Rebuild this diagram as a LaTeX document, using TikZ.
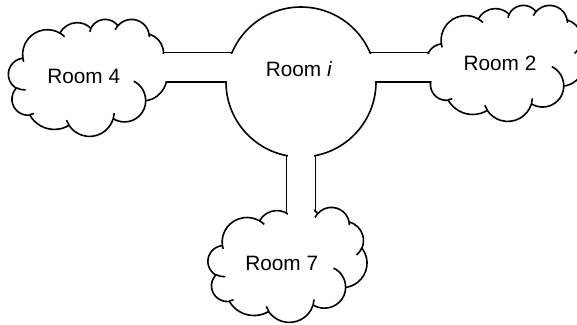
\documentclass[tikz,border=0pt]{standalone}
\usepackage{fontspec}
\setmainfont{Liberation Sans}
\usetikzlibrary{calc}
\pgfdeclarelayer{bg}
\pgfdeclarelayer{fg}
\pgfsetlayers{bg,main,fg}

\makeatletter
% elliptic arc with OOXML-style (visual) angles -> TikZ parametric angles
\newcommand\mkooarc[5]{%
  \pgfmathsetmacro\oo@a{atan2((#2)*sin(#4),(#3)*cos(#4))}%
  \pgfmathsetmacro\oo@b{atan2((#2)*sin((#4)+(#5)),(#3)*cos((#4)+(#5)))}%
  \pgfmathsetmacro\oo@d{\oo@b-\oo@a}%
  \pgfmathsetmacro\oo@k{round(((#5)-\oo@d)/360)}%
  \pgfmathsetmacro\oo@d{\oo@d+360*\oo@k}%
  \expandafter\xdef\csname ooarc#1\endcsname{arc[x radius=#2,y radius=#3,start angle=\oo@a,delta angle=\oo@d]}%
}
\makeatother

% outline
\mkooarc{A}{67.53}{91.90}{-190.48748}{123.78053}
\mkooarc{B}{53.33}{72.67}{-144.10238}{89.94523}
\mkooarc{C}{43.65}{59.45}{-145.80792}{99.72302}
\mkooarc{D}{48.57}{65.95}{-130.98607}{117.24173}
\mkooarc{E}{53.33}{72.73}{-78.70888}{109.02692}
\mkooarc{F}{67.75}{92.20}{-46.26725}{130.269}
\mkooarc{G}{57.85}{78.67}{0.62502}{114.03333}
\mkooarc{H}{67.52}{92.15}{22.4516}{115.17255}
\mkooarc{I}{77.20}{105.43}{66.24263}{75.71102}
\mkooarc{J}{43.60}{59.18}{-274.94208}{146.73557}
\mkooarc{K}{43.45}{59.45}{-246.8285}{152.51885}
% inner curls
\mkooarc{a}{43.45}{59.45}{86.742}{26.4295}
\mkooarc{b}{43.60}{59.18}{73.61047}{11.44747}
\mkooarc{c}{67.52}{92.15}{137.62415}{14.0811}
\mkooarc{d}{67.52}{92.15}{6.45327}{15.99835}
\mkooarc{e}{57.85}{78.67}{-70.29235}{70.91737}
\mkooarc{f}{53.33}{72.73}{30.31803}{27.7515}
\mkooarc{g}{48.57}{65.95}{-13.74433}{14.8589}
\mkooarc{h}{48.57}{65.95}{-149.18145}{18.19537}
\mkooarc{i}{43.65}{59.45}{-163.49427}{17.68635}
\mkooarc{j}{67.53}{91.90}{-66.70695}{12.31935}
\mkooarc{k}{67.53}{91.90}{157.65435}{11.85817}

\newcommand\ooCloud[4]{%
  \begin{scope}[shift={(#1,#2)},xscale=#3/432,yscale=#4/432]
    \draw[room,fill=white] (39.00,143.70) \ooarcA \ooarcB \ooarcC \ooarcD \ooarcE \ooarcF \ooarcG \ooarcH \ooarcI \ooarcJ \ooarcK -- cycle;
    \draw[room] (46.93,261.77) \ooarca (69.28,348.99) \ooarcb (164.78,390.90) \ooarcc (288.27,347.51) \ooarcd (341.29,229.54) \ooarce (417.98,153.54) \ooarcf (383.24,54.26) \ooarcg (290.78,39.52) \ooarch (221.41,47.20) \ooarci (140.00,51.92) \ooarcj (41.27,157.89) \ooarck;
  \end{scope}}

\begin{document}
\begin{tikzpicture}[x=1pt,y=-1pt,
  room/.style={line width=1.6pt,line join=round},
  lbl/.style={inner sep=0pt,anchor=base,font=\fontsize{20.8}{25}\selectfont}]
\useasboundingbox (0,0) rectangle (577,324);
\node[circle,draw,fill=white,room,minimum size=150pt,inner sep=0pt,outer sep=0pt] (ri) at (301,82) {};
\ooCloud{8.5}{19}{158.5}{117}
\ooCloud{427}{5}{158}{116}
\ooCloud{208}{207}{159}{115}
\node[lbl] (rilbl) at (299,76.7) {Room \textit{i}};
\node[lbl] (r4) at (83.7,83.3) {Room 4};
\node[lbl] (r2) at (500,70) {Room 2};
\node[lbl] (r7) at (281.7,270.7) {Room 7};
\begin{pgfonlayer}{bg}
  \draw[room] (ri.157) -- (ri.157 -| r4);
  \draw[room] (ri.180) -- (ri.180 -| r4);
  \draw[room] (ri.23) -- (ri.23 -| r2);
  \draw[room] (ri.0) -- (ri.0 -| r2);
  \draw[room] (ri.259) -- (ri.259 |- r7);
  \draw[room] (ri.281) -- (ri.281 |- r7);
\end{pgfonlayer}
\begin{pgfonlayer}{fg}
  \fill[white] (145,53.6) rectangle (245,81.1);
  \fill[white] (357,53.6) rectangle (455,81.1);
  \fill[white] (287.6,140) rectangle (314.4,225);
\end{pgfonlayer}
\end{tikzpicture}
\end{document}
